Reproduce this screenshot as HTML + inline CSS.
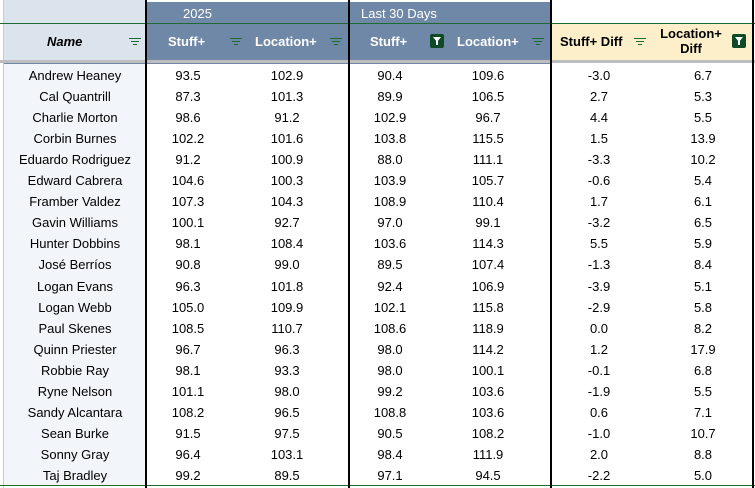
<!DOCTYPE html><html><head><style>
body{margin:0;width:755px;height:488px;background:#fff;position:relative;overflow:hidden;font-family:"Liberation Sans",Arial,sans-serif;}
.a{position:absolute}
.t{position:absolute;font-size:13px;color:#000;text-align:center}
.h{position:absolute;font-size:13px;font-weight:bold;color:#fff;text-align:center}
.f{position:absolute;width:12px;height:8px}
.f i{position:absolute;left:0;height:1px;background:#1e6b32}
.g{position:absolute;width:14px;height:14px;background:#0f4a26;border-radius:2px}
.g:after{content:"";position:absolute;left:3px;top:3px;border-left:4px solid transparent;border-right:4px solid transparent;border-top:5px solid #fff}
.g:before{content:"";position:absolute;left:6px;top:7px;width:2px;height:4px;background:#fff}
</style></head><body>
<div class="a" style="left:0;top:0;width:3px;height:488px;background:#fff;border-right:1px solid #ccc"></div>
<div class="a" style="left:4px;top:0;width:141px;height:61px;background:#dbe3ed"></div>
<div class="a" style="left:4px;top:64px;width:141px;height:421px;background:#f2f5f9"></div>
<div class="a" style="left:147px;top:2px;width:403px;height:59px;background:#7088a8"></div>
<div class="a" style="left:552px;top:24px;width:200px;height:37px;background:#fdefc9"></div>
<div class="a" style="left:0;top:23px;width:755px;height:1px;background:#1e6b32"></div>
<div class="a" style="left:0;top:60px;width:755px;height:3px;background:#bdbdbd"></div>
<div class="a" style="left:4px;top:63px;width:546px;height:1px;background:#7088a8"></div>
<div class="a" style="left:0;top:485px;width:755px;height:1px;background:#1e6b32"></div>
<div class="a" style="left:145px;top:0;width:2px;height:488px;background:#000"></div>
<div class="a" style="left:348px;top:0;width:2px;height:488px;background:#000"></div>
<div class="a" style="left:550px;top:0;width:2px;height:488px;background:#000"></div>
<div class="a" style="left:752px;top:0;width:2px;height:488px;background:#000"></div>
<div class="a" style="left:183px;top:6px;font-size:13px;color:#fff">2025</div>
<div class="a" style="left:361px;top:6px;font-size:13px;color:#fff">Last 30 Days</div>
<div class="a" style="left:47px;top:34px;font-size:13px;font-weight:bold;font-style:italic">Name</div>
<div class="h" style="left:168px;top:34px">Stuff+</div>
<div class="h" style="left:255px;top:34px">Location+</div>
<div class="h" style="left:370px;top:34px">Stuff+</div>
<div class="h" style="left:457px;top:34px">Location+</div>
<div class="a" style="left:560px;top:34px;font-size:13px;font-weight:bold">Stuff+ Diff</div>
<div class="a" style="left:660px;top:26px;font-size:13px;font-weight:bold;text-align:center;line-height:15px;width:62px">Location+<br>Diff</div>
<div class="f" style="left:129px;top:38px"><i style="top:0;width:12px"></i><i style="top:3px;left:2px;width:8px"></i><i style="top:6px;left:4px;width:4px"></i></div>
<div class="f" style="left:230px;top:38px"><i style="top:0;width:12px"></i><i style="top:3px;left:2px;width:8px"></i><i style="top:6px;left:4px;width:4px"></i></div>
<div class="f" style="left:330px;top:38px"><i style="top:0;width:12px"></i><i style="top:3px;left:2px;width:8px"></i><i style="top:6px;left:4px;width:4px"></i></div>
<div class="f" style="left:532px;top:38px"><i style="top:0;width:12px"></i><i style="top:3px;left:2px;width:8px"></i><i style="top:6px;left:4px;width:4px"></i></div>
<div class="f" style="left:634px;top:38px"><i style="top:0;width:12px"></i><i style="top:3px;left:2px;width:8px"></i><i style="top:6px;left:4px;width:4px"></i></div>
<div class="g" style="left:430px;top:34px"></div>
<div class="g" style="left:732px;top:34px"></div>
<div id="r"></div>
<script>
var d=[["Andrew Heaney","93.5","102.9","90.4","109.6","-3.0","6.7"],["Cal Quantrill","87.3","101.3","89.9","106.5","2.7","5.3"],["Charlie Morton","98.6","91.2","102.9","96.7","4.4","5.5"],["Corbin Burnes","102.2","101.6","103.8","115.5","1.5","13.9"],["Eduardo Rodriguez","91.2","100.9","88.0","111.1","-3.3","10.2"],["Edward Cabrera","104.6","100.3","103.9","105.7","-0.6","5.4"],["Framber Valdez","107.3","104.3","108.9","110.4","1.7","6.1"],["Gavin Williams","100.1","92.7","97.0","99.1","-3.2","6.5"],["Hunter Dobbins","98.1","108.4","103.6","114.3","5.5","5.9"],["José Berríos","90.8","99.0","89.5","107.4","-1.3","8.4"],["Logan Evans","96.3","101.8","92.4","106.9","-3.9","5.1"],["Logan Webb","105.0","109.9","102.1","115.8","-2.9","5.8"],["Paul Skenes","108.5","110.7","108.6","118.9","0.0","8.2"],["Quinn Priester","96.7","96.3","98.0","114.2","1.2","17.9"],["Robbie Ray","98.1","93.3","98.0","100.1","-0.1","6.8"],["Ryne Nelson","101.1","98.0","99.2","103.6","-1.9","5.5"],["Sandy Alcantara","108.2","96.5","108.8","103.6","0.6","7.1"],["Sean Burke","91.5","97.5","90.5","108.2","-1.0","10.7"],["Sonny Gray","96.4","103.1","98.4","111.9","2.0","8.8"],["Taj Bradley","99.2","89.5","97.1","94.5","-2.2","5.0"]];
var cx=[75,188,287,390,488,599,703],h="";
d.forEach(function(r,i){var y=68+i*21.05;r.forEach(function(v,j){h+='<div class="t" style="left:'+(cx[j]-70)+'px;width:140px;top:'+y+'px">'+v+'</div>';});});
document.getElementById("r").innerHTML=h;
</script>
</body></html>
